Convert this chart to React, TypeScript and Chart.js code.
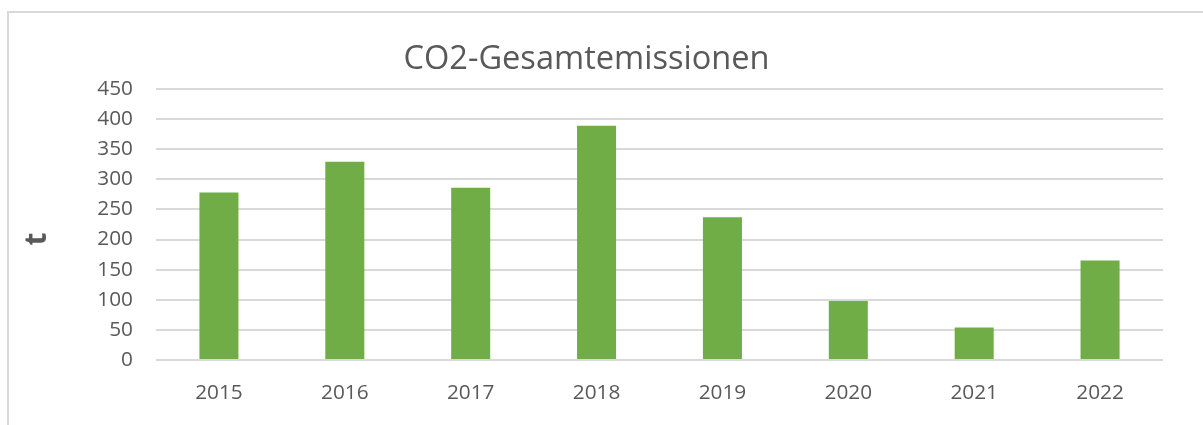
import React, { useEffect, useRef } from "react";
import { Chart, registerables } from "chart.js";

Chart.register(...registerables);

const years = ["2015", "2016", "2017", "2018", "2019", "2020", "2021", "2022"];
const emissions = [278, 329, 286, 389, 237, 98, 54, 165];
const chartTitle = "CO2-Gesamtemissionen";
const yAxisTitle = "t";
const yMin = 0;
const yMax = 450;
const yStep = 50;

const TEXT = "#595959";
const GRID = "#d9d9d9";
const BAR = "#70AD47";
const FONT = "'Open Sans', 'Noto Sans', sans-serif";

const yTitlePlugin = {
  id: "yTitleT",
  afterDraw(chart: any) {
    const ctx = chart.ctx;
    ctx.save();
    ctx.fillStyle = TEXT;
    ctx.font = `bold 30px ${FONT}`;
    ctx.translate(46, 239);
    ctx.rotate(-Math.PI / 2);
    ctx.textAlign = "center";
    ctx.textBaseline = "alphabetic";
    ctx.fillText(yAxisTitle, 0, 0);
    ctx.restore();
  },
};

export default function App() {
  const ref = useRef<HTMLCanvasElement | null>(null);

  useEffect(() => {
    if (!ref.current) return;
    const chart = new Chart(ref.current, {
      type: "bar",
      data: {
        labels: years,
        datasets: [
          {
            label: chartTitle,
            data: emissions,
            backgroundColor: BAR,
            borderWidth: 0,
            barPercentage: 0.31,
            categoryPercentage: 1,
          },
        ],
      },
      plugins: [yTitlePlugin],
      options: {
        animation: false,
        responsive: false,
        devicePixelRatio: 1,
        layout: { padding: { left: 10, right: 40, top: 0, bottom: 0 } },
        plugins: {
          legend: { display: false },
          tooltip: { enabled: false },
          title: {
            display: true,
            text: chartTitle,
            color: TEXT,
            font: { family: FONT, size: 32.6, weight: "normal", lineHeight: 1.2 },
            padding: { top: 39.8, bottom: 10 },
          },
        },
        scales: {
          x: {
            grid: { display: false, drawTicks: false },
            border: { display: false },
            ticks: {
              color: TEXT,
              font: { family: FONT, size: 20.8 },
              padding: 21,
              maxRotation: 0,
            },
            afterFit: (s: any) => {
              s.height = 65;
            },
          },
          y: {
            min: yMin,
            max: yMax,
            grid: { color: GRID, lineWidth: 2, drawTicks: false },
            border: { display: false },
            ticks: {
              stepSize: yStep,
              color: TEXT,
              font: { family: FONT, size: 20.8 },
              padding: 23,
            },
            afterFit: (s: any) => {
              s.width = 146;
            },
          },
        },
      },
    });
    return () => chart.destroy();
  }, []);

  return (
    <div
      style={{
        position: "fixed",
        left: 0,
        top: 0,
        width: 1203,
        height: 425,
        overflow: "hidden",
        background: "#fff",
      }}
    >
      <div
        style={{
          position: "absolute",
          left: 7,
          top: 11,
          width: 1400,
          height: 600,
          borderLeft: `2px solid ${GRID}`,
          borderTop: `2px solid ${GRID}`,
        }}
      />
      <canvas
        ref={ref}
        width={1203}
        height={425}
        style={{ position: "absolute", left: 0, top: 0, width: 1203, height: 425 }}
      />
    </div>
  );
}
